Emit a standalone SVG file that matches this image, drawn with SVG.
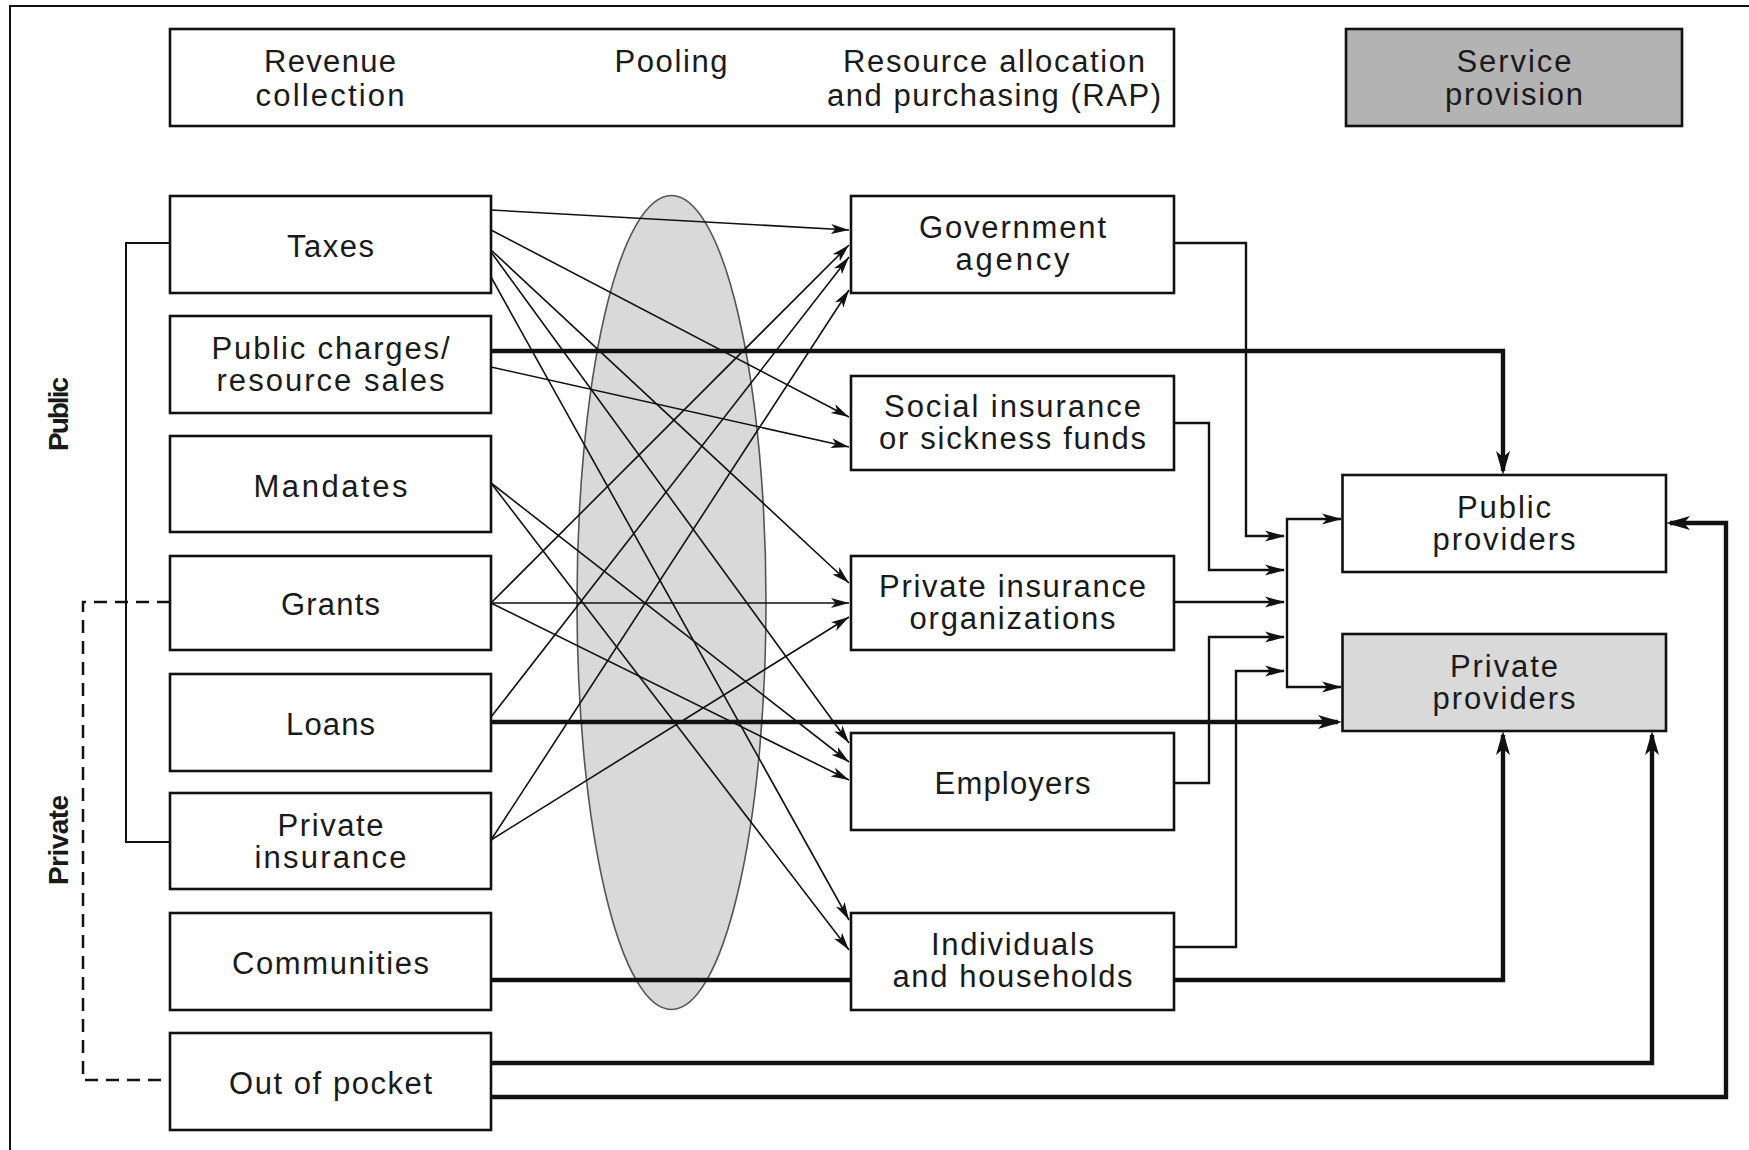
<svg xmlns="http://www.w3.org/2000/svg" width="1749" height="1150" viewBox="0 0 1749 1150">
<style>
.box{fill:#fff;stroke:#111;stroke-width:2.6}
.dark{fill:#b3b3b3}
.light{fill:#d9d9d9}
.t{font-family:"Liberation Sans",Arial,sans-serif;font-size:31px;fill:#1a1a1a;text-anchor:middle}
.side{font-family:"Liberation Sans",Arial,sans-serif;font-size:28px;font-weight:bold;fill:#1a1a1a;text-anchor:middle}
.thin{fill:none;stroke:#111;stroke-width:1.6}
.mid{fill:none;stroke:#111;stroke-width:2.4}
.thick{fill:none;stroke:#111;stroke-width:4.4}
.frame{fill:none;stroke:#111;stroke-width:2}
.dash{fill:none;stroke:#111;stroke-width:2.5;stroke-dasharray:13 8}
</style>
<defs>
<marker id="aThin" markerUnits="userSpaceOnUse" markerWidth="18" markerHeight="11" refX="18" refY="5.5" orient="auto"><path d="M0,0.5 L18,5.5 L0,10.5 L4.5,5.5 Z" fill="#111"/></marker>
<marker id="aMid" markerUnits="userSpaceOnUse" markerWidth="20" markerHeight="12" refX="19" refY="6" orient="auto"><path d="M0,0.5 L20,6 L0,11.5 L5,6 Z" fill="#111"/></marker>
<marker id="aThick" markerUnits="userSpaceOnUse" markerWidth="24" markerHeight="16" refX="20" refY="8" orient="auto"><path d="M0,1 L24,8 L0,15 L6,8 Z" fill="#111"/></marker>
</defs>
<rect width="1749" height="1150" fill="#fff"/>
<path class="frame" d="M10,1150 V6 H1749"/>

<g id="header">
<rect class="box" x="170" y="29" width="1004" height="97"/>
<text class="t" x="330" y="72" textLength="132">Revenue</text>
<text class="t" x="330" y="106" textLength="149">collection</text>
<text class="t" x="671" y="72" textLength="113">Pooling</text>
<text class="t" x="994" y="72" textLength="302">Resource allocation</text>
<text class="t" x="994" y="106" textLength="334">and purchasing (RAP)</text>
</g>
<g id="service-provision">
<rect class="box dark" x="1346" y="29" width="336" height="97"/>
<text class="t" x="1514" y="72" textLength="115">Service</text>
<text class="t" x="1514" y="105" textLength="138">provision</text>
</g>

<g id="side-labels">
<text class="side" transform="translate(68,414) rotate(-90)" textLength="74">Public</text>
<text class="side" transform="translate(68,840) rotate(-90)" textLength="90">Private</text>
</g>

<ellipse id="pooling-ellipse" cx="671.5" cy="602.5" rx="94.5" ry="407" fill="#d9d9d9" stroke="#555" stroke-width="1.6"/>

<g id="connectors">
<path class="frame" d="M170,243 H126 V842 H172"/>
<path class="dash" d="M170,602 H83 V1080 H170"/>
<g marker-end="url(#aThin)">
<path class="thin" d="M491,210 L849,230"/>
<path class="thin" d="M491,230 L849,417"/>
<path class="thin" d="M491,250 L849,583"/>
<path class="thin" d="M491,252 L849,743"/>
<path class="thin" d="M491,277 L849,920"/>
<path class="thin" d="M491,367 L849,447"/>
<path class="thin" d="M491,483 L849,762"/>
<path class="thin" d="M491,483 L849,950"/>
<path class="thin" d="M491,603 L849,245"/>
<path class="thin" d="M491,603 L849,603"/>
<path class="thin" d="M491,603 L849,780"/>
<path class="thin" d="M491,717 L849,257"/>
<path class="thin" d="M491,840 L849,290"/>
<path class="thin" d="M491,840 L849,617"/>
</g>
<g marker-end="url(#aMid)">
<path class="mid" d="M1174,243 H1246 V536 H1284"/>
<path class="mid" d="M1174,423 H1209 V570 H1284"/>
<path class="mid" d="M1174,602 H1284"/>
<path class="mid" d="M1174,783 H1209 V637 H1284"/>
<path class="mid" d="M1174,947 H1236 V671 H1284"/>
<path class="mid" d="M1287,603 V519 H1341"/>
<path class="mid" d="M1287,603 V687 H1341"/>
</g>
<path class="thick" d="M491,980 H851"/>
<g marker-end="url(#aThick)">
<path class="thick" d="M491,351 H1503 V471"/>
<path class="thick" d="M491,722 H1338"/>
<path class="thick" d="M1174,980 H1503 V735"/>
<path class="thick" d="M491,1063 H1652 V735"/>
<path class="thick" d="M491,1097 H1726 V523 H1670"/>
</g>
</g>

<g id="taxes"><rect class="box" x="170" y="196" width="321" height="97"/><text class="t" x="330.5" y="257" textLength="87">Taxes</text></g>
<g id="public-charges"><rect class="box" x="170" y="316" width="321" height="97"/><text class="t" x="330.5" y="359" textLength="238">Public charges/</text><text class="t" x="330.5" y="391" textLength="228">resource sales</text></g>
<g id="mandates"><rect class="box" x="170" y="436" width="321" height="96"/><text class="t" x="330.5" y="497" textLength="154">Mandates</text></g>
<g id="grants"><rect class="box" x="170" y="556" width="321" height="94"/><text class="t" x="330.5" y="615" textLength="99">Grants</text></g>
<g id="loans"><rect class="box" x="170" y="674" width="321" height="97"/><text class="t" x="330.5" y="735" textLength="89">Loans</text></g>
<g id="private-insurance"><rect class="box" x="170" y="793" width="321" height="96"/><text class="t" x="330.5" y="836" textLength="106">Private</text><text class="t" x="330.5" y="868" textLength="152">insurance</text></g>
<g id="communities"><rect class="box" x="170" y="913" width="321" height="97"/><text class="t" x="330.5" y="974" textLength="197">Communities</text></g>
<g id="out-of-pocket"><rect class="box" x="170" y="1033" width="321" height="97"/><text class="t" x="330.5" y="1094" textLength="203">Out of pocket</text></g>

<g id="government-agency"><rect class="box" x="851" y="196" width="323" height="97"/><text class="t" x="1012.5" y="238" textLength="187">Government</text><text class="t" x="1012.5" y="270" textLength="114">agency</text></g>
<g id="social-insurance"><rect class="box" x="851" y="376" width="323" height="94"/><text class="t" x="1012.5" y="417" textLength="257">Social insurance</text><text class="t" x="1012.5" y="449" textLength="267">or sickness funds</text></g>
<g id="private-insurance-organizations"><rect class="box" x="851" y="556" width="323" height="94"/><text class="t" x="1012.5" y="597" textLength="267">Private insurance</text><text class="t" x="1012.5" y="629" textLength="206">organizations</text></g>
<g id="employers"><rect class="box" x="851" y="733" width="323" height="97"/><text class="t" x="1012.5" y="794" textLength="156">Employers</text></g>
<g id="individuals-households"><rect class="box" x="851" y="913" width="323" height="97"/><text class="t" x="1012.5" y="955" textLength="163">Individuals</text><text class="t" x="1012.5" y="987" textLength="240">and households</text></g>

<g id="public-providers"><rect class="box" x="1342.5" y="475" width="323.5" height="97"/><text class="t" x="1504" y="518" textLength="94">Public</text><text class="t" x="1504" y="550" textLength="143">providers</text></g>
<g id="private-providers"><rect class="box light" x="1342.5" y="634" width="323.5" height="97"/><text class="t" x="1504" y="677" textLength="108">Private</text><text class="t" x="1504" y="709" textLength="143">providers</text></g>
</svg>
